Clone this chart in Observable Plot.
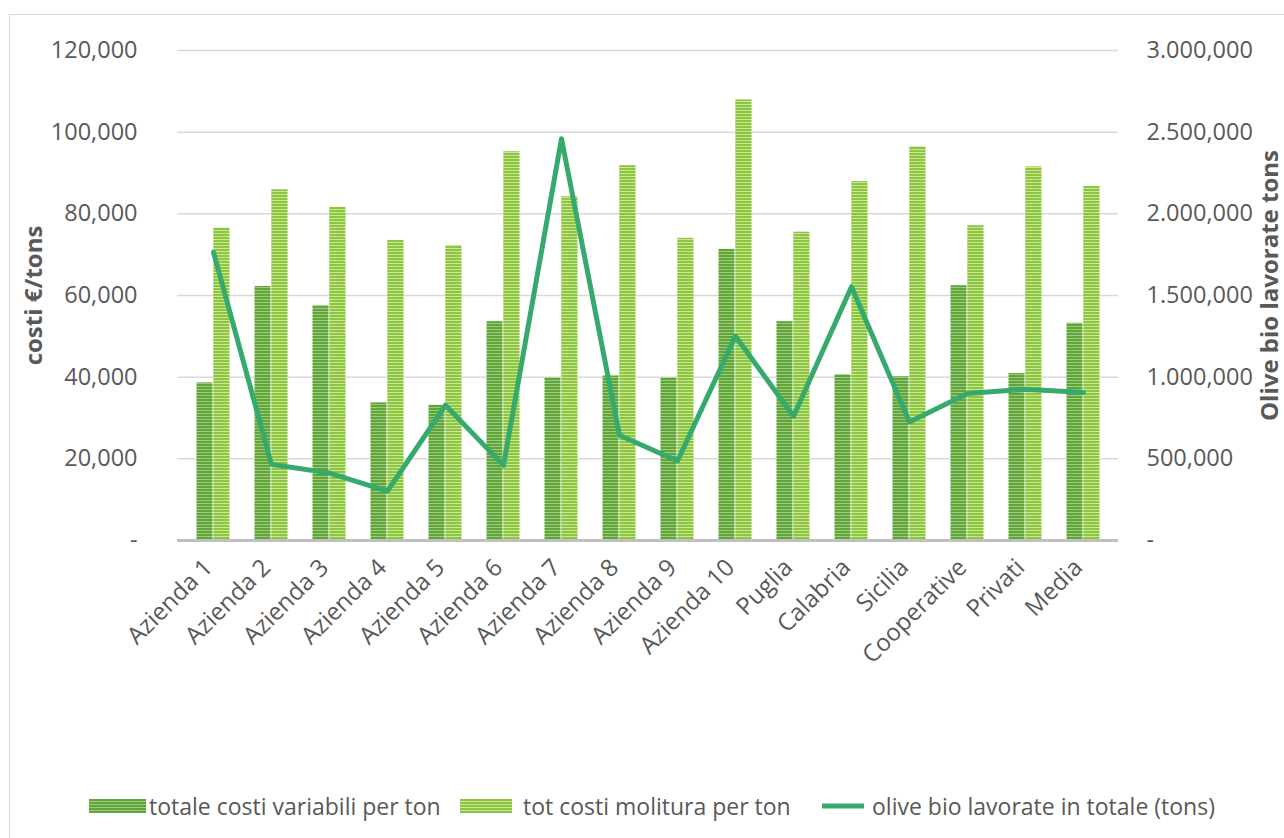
<!DOCTYPE html>
<html>
<head>
<meta charset="utf-8">
<script src="https://cdn.jsdelivr.net/npm/d3@7"></script>
<script src="https://cdn.jsdelivr.net/npm/@observablehq/plot@0.6"></script>
<style>
  html, body { margin: 0; padding: 0; background: #fff; overflow: hidden; }
  #wrap { position: relative; width: 1284px; height: 838px; overflow: hidden; font-family: "Open Sans", sans-serif; color: #595959; }
  #frame { position: absolute; left: 9px; top: 14px; width: 1300px; height: 860px; border: 1.5px solid #d9d9d9; box-sizing: border-box; }
  #chart { position: absolute; left: 0; top: 0; }
  #legend { position: absolute; left: 0; top: 792px; width: 1284px; height: 28px; font-size: 23px; }
  .item { position: absolute; top: 0; display: flex; align-items: center; height: 28px; white-space: nowrap; }
</style>
</head>
<body>
<div id="wrap">
  <div id="frame"></div>
  <div id="chart"></div>
  <div id="legend"></div>
</div>
<script>
const categories = ["Azienda 1","Azienda 2","Azienda 3","Azienda 4","Azienda 5","Azienda 6","Azienda 7","Azienda 8","Azienda 9","Azienda 10","Puglia","Calabria","Sicilia","Cooperative","Privati","Media"];
const variabili = [38600, 62200, 57500, 33700, 33100, 53600, 39800, 40300, 39800, 71300, 53600, 40600, 40100, 62400, 40900, 53200];
const molitura = [76500, 85900, 81600, 73500, 72200, 95200, 84200, 91800, 74000, 107900, 75500, 87900, 96400, 77100, 91500, 86700];
const olive = [1765000, 466000, 413000, 302000, 828000, 460000, 2460000, 644000, 487000, 1251000, 761000, 1554000, 726000, 900000, 926000, 906000];
const leftTicks = [0, 20000, 40000, 60000, 80000, 100000, 120000];
const rightTicks = [0, 500000, 1000000, 1500000, 2000000, 2500000, 3000000];
const seriesNames = ["totale costi variabili per ton", "tot costi molitura per ton", "olive bio lavorate in totale (tons)"];
const ratio = rightTicks[rightTicks.length - 1] / leftTicks[leftTicks.length - 1];

const data = categories.map((c, i) => ({cat: c, v: variabili[i], m: molitura[i], o: olive[i]}));

const fmtL = d => d === 0 ? "-" : d3.format(",")(d);
const fmtR = d => {
  if (d === 0) return "-";
  let s = d3.format(",")(d);
  if (d >= 1e6) s = s.replace(",", ".");
  return s;
};

const lineColor = "#36a96c";

const chart = Plot.plot({
  width: 1284,
  height: 780,
  marginLeft: 177,
  marginRight: 166,
  marginTop: 50,
  marginBottom: 240,
  style: {fontFamily: "'Open Sans', sans-serif", fontSize: "24px", color: "#595959", background: "transparent"},
  x: {domain: categories, padding: 0, axis: null},
  y: {domain: [0, 120000], axis: null},
  marks: [
    Plot.gridY(leftTicks, {stroke: "#d9d9d9", strokeOpacity: 1, strokeWidth: 1.5}),
    Plot.axisY(leftTicks, {anchor: "left", tickSize: 0, tickPadding: 40, tickFormat: fmtL, fontSize: 23.5, fill: "#595959", label: null}),
    Plot.axisY(leftTicks, {anchor: "right", tickSize: 0, tickPadding: 28, tickFormat: d => fmtR(d * ratio), fontSize: 23.5, fill: "#595959", label: null}),
    Plot.axisX({anchor: "bottom", tickSize: 0, tickPadding: 14, tickRotate: -45, fontSize: 24, fill: "#595959", label: null, dx: -5, dy: 9}),
    Plot.barY(data, {x: "cat", y: "v", fill: "url(#pDark)", insetLeft: 12.5, insetRight: 29.5}),
    Plot.barY(data, {x: "cat", y: "m", fill: "url(#pLight)", insetLeft: 29.3, insetRight: 12.5}),
    Plot.ruleY([0], {stroke: "#bfbfbf", strokeWidth: 3}),
    Plot.line(data, {x: "cat", y: d => d.o / ratio, stroke: lineColor, strokeWidth: 5, strokeLinejoin: "round", strokeLinecap: "round"}),
    Plot.text(["costi €/tons"], {frameAnchor: "left", textAnchor: "middle", dx: -143, rotate: -90, fontWeight: "bold", fontSize: 24, fill: "#595959"}),
    Plot.text(["Olive bio lavorate tons"], {frameAnchor: "right", textAnchor: "middle", dx: 152, dy: -10, rotate: -90, fontWeight: "bold", fontSize: 24, fill: "#595959"})
  ]
});

const ns = "http://www.w3.org/2000/svg";
const defs = document.createElementNS(ns, "defs");
defs.innerHTML = `
  <pattern id="pDark" patternUnits="userSpaceOnUse" width="6" height="3">
    <rect width="6" height="3" fill="#9ccb7e"/>
    <rect width="6" height="2" fill="#5fa53a"/>
  </pattern>
  <pattern id="pLight" patternUnits="userSpaceOnUse" width="6" height="3">
    <rect width="6" height="3" fill="#cbe59a"/>
    <rect width="6" height="2" fill="#8cc63e"/>
  </pattern>`;
chart.insertBefore(defs, chart.firstChild);
document.getElementById("chart").appendChild(chart);

const legend = document.getElementById("legend");
const items = [
  {left: 89, type: "dark", w: 57, gap: 3},
  {left: 460, type: "light", w: 52, gap: 11},
  {left: 822, type: "line", w: 42, gap: 8}
];
items.forEach((it, i) => {
  const div = document.createElement("div");
  div.className = "item";
  div.style.left = it.left + "px";
  let sw;
  if (it.type === "line") {
    sw = `<svg width="${it.w}" height="14" style="margin-right:${it.gap}px"><line x1="0" x2="${it.w}" y1="7" y2="7" stroke="${lineColor}" stroke-width="5"/></svg>`;
  } else {
    const pid = it.type === "dark" ? "pDark" : "pLight";
    sw = `<svg width="${it.w}" height="14" style="margin-right:${it.gap}px"><rect width="${it.w}" height="14" fill="url(#${pid})"/></svg>`;
  }
  div.innerHTML = sw + `<span>${seriesNames[i]}</span>`;
  legend.appendChild(div);
});
</script>
</body>
</html>
